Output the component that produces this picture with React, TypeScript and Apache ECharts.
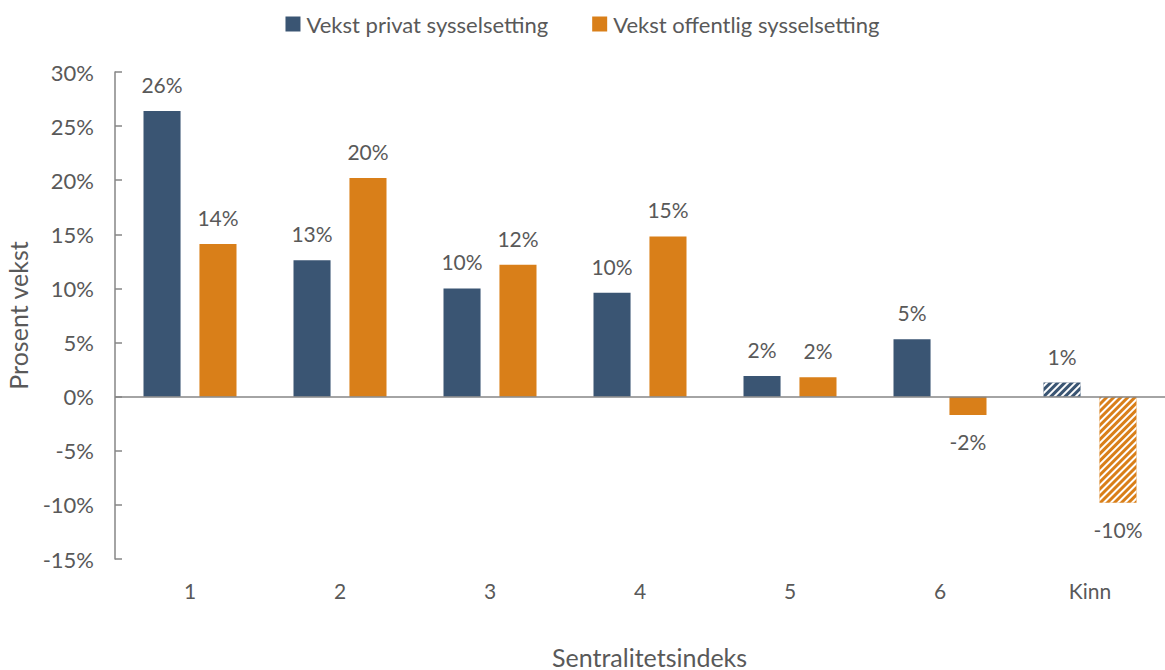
import React, { useEffect, useRef } from "react";
import * as echarts from "echarts";

const categories = ["1", "2", "3", "4", "5", "6", "Kinn"];
const privat = [26.4, 12.6, 10.0, 9.6, 1.9, 5.3, 1.3];
const offentlig = [14.1, 20.2, 12.2, 14.8, 1.8, -1.7, -9.8];
const seriesNames = ["Vekst privat sysselsetting", "Vekst offentlig sysselsetting"];
const hatchedCategory = "Kinn";

const BLUE = "#3A5573";
const ORANGE = "#D97F19";
const TEXT = "#595959";
const FONT = "Lato, 'Open Sans', sans-serif";

function buildData(values: number[]) {
  return values.map((v, i) => {
    const item: any = {
      value: v,
      label: { position: v < 0 ? "bottom" : "top" },
    };
    if (categories[i] === hatchedCategory) {
      item.itemStyle = {
        decal: {
          symbol: "rect",
          color: "#ffffff",
          dashArrayX: [1, 0],
          dashArrayY: [2, 3],
          rotation: -Math.PI / 4,
        },
      };
    }
    return item;
  });
}

export default function App() {
  const ref = useRef<HTMLDivElement>(null);
  useEffect(() => {
    if (!ref.current) return;
    const chart = echarts.init(ref.current, undefined, { renderer: "svg" });
    const labelCfg = {
      show: true,
      distance: 16,
      color: TEXT,
      fontSize: 21,
      fontFamily: FONT,
      formatter: (p: any) => Math.round(p.value) + "%",
    };
    chart.setOption({
      animation: false,
      aria: { enabled: false, decal: { show: false } },
      legend: {
        top: 8,
        left: "center",
        itemWidth: 15,
        itemHeight: 15,
        itemGap: 44,
        icon: "rect",
        textStyle: { color: TEXT, fontSize: 22, fontFamily: FONT, padding: [0, 0, 0, 1] },
        data: seriesNames,
      },
      grid: { left: 115, right: 0, top: 72, bottom: 111, outerBoundsMode: "none", containLabel: false },
      xAxis: {
        type: "category",
        data: categories,
        axisLine: { show: false, onZero: false },
        axisTick: { show: false },
        axisLabel: { color: TEXT, fontSize: 21, fontFamily: FONT, margin: 21 },
      },
      yAxis: {
        type: "value",
        min: -15,
        max: 30,
        interval: 5,
        name: "Prosent vekst",
        nameLocation: "middle",
        nameGap: 85,
        nameTextStyle: { color: TEXT, fontSize: 25, fontFamily: FONT },
        axisLine: { show: true, lineStyle: { color: "#868686", width: 1.5 } },
        axisTick: { show: true, inside: true, length: 7, lineStyle: { color: "#868686", width: 1.5 } },
        splitLine: { show: false },
        axisLabel: {
          color: TEXT,
          fontSize: 22,
          fontFamily: FONT,
          margin: 21,
          formatter: (v: number) => v + "%",
        },
      },
      series: [
        {
          name: seriesNames[0],
          type: "bar",
          data: buildData(privat),
          itemStyle: { color: BLUE },
          barGap: "51%",
          barCategoryGap: "38%",
          label: labelCfg,
          markLine: {
            silent: true,
            symbol: "none",
            label: { show: false },
            lineStyle: { color: "#868686", width: 1.5, type: "solid" },
            data: [{ yAxis: 0 }],
          },
        },
        {
          name: seriesNames[1],
          type: "bar",
          data: buildData(offentlig),
          itemStyle: { color: ORANGE },
          barGap: "51%",
          barCategoryGap: "38%",
          label: labelCfg,
        },
      ],
      graphic: [
        {
          type: "text",
          left: 552,
          top: 644,
          style: {
            text: "Sentralitetsindeks",
            fill: TEXT,
            fontSize: 25,
            fontFamily: FONT,
          },
        },
      ],
    });
    return () => chart.dispose();
  }, []);
  return <div ref={ref} style={{ width: 1165, height: 670, position: "absolute", left: 0, top: 0 }} />;
}
